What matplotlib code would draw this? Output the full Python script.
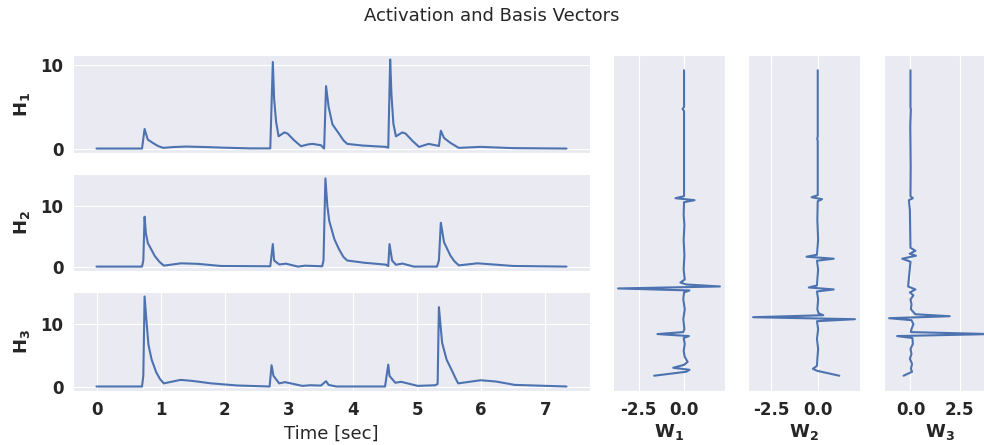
import numpy as np
import matplotlib
matplotlib.use('Agg')
import matplotlib.pyplot as plt
import matplotlib.ticker as ticker
import seaborn as sns

sns.set_style('darkgrid')
plt.rcParams['font.family'] = ['DejaVu Sans']

LINE_COLOR = '#4c72b0'

# activations (time in seconds, value)
h1_time = [0, 0.71, 0.75, 0.80, 0.88, 0.96, 1.04, 1.2, 1.4, 1.7, 2.0, 2.4, 2.71,
           2.75, 2.77, 2.80, 2.84, 2.93, 2.98, 3.08, 3.19, 3.3, 3.37, 3.5, 3.55,
           3.58, 3.62, 3.68, 3.78, 3.85, 3.91, 4.15, 4.51, 4.55, 4.58, 4.60, 4.63,
           4.67, 4.77, 4.82, 4.93, 5.03, 5.18, 5.31, 5.34, 5.37, 5.42, 5.52, 5.65,
           5.99, 6.5, 7.33]
h1_vals = [0, 0, 2.35, 1.07, 0.67, 0.3, 0.08, 0.18, 0.24, 0.18, 0.1, 0.02, 0.02,
           10.4, 6.0, 3.25, 1.47, 1.94, 1.8, 1.0, 0.28, 0.5, 0.56, 0.4, 0.0,
           7.5, 5.0, 2.9, 1.8, 1.0, 0.56, 0.36, 0.2, 0.1, 10.7, 6.5, 3.0,
           1.47, 1.94, 1.8, 0.9, 0.2, 0.56, 0.36, 0.3, 2.14, 1.27, 0.68, 0.08,
           0.2, 0.05, 0.0]

h2_time = [0, 0.71, 0.73, 0.75, 0.77, 0.80, 0.83, 0.91, 0.98, 1.05, 1.32, 1.58,
           1.94, 2.71, 2.75, 2.77, 2.85, 2.955, 3.14, 3.25, 3.52, 3.54, 3.57,
           3.60, 3.63, 3.71, 3.78, 3.85, 3.91, 4.17, 4.51, 4.55, 4.57, 4.61, 4.67,
           4.77, 4.95, 5.31, 5.34, 5.37, 5.42, 5.52, 5.58, 5.65, 5.94, 6.5, 7.33]
h2_vals = [0, 0, 1.0, 8.2, 5.5, 3.87, 3.3, 1.72, 0.8, 0.16, 0.54, 0.45,
           0.1, 0.05, 3.7, 1.0, 0.35, 0.48, 0.0, 0.15, 0.05, 1.0, 14.5,
           10.0, 7.5, 4.5, 2.9, 1.6, 1.0, 0.64, 0.32, 0.1, 3.7, 1.0, 0.3,
           0.5, 0.0, 0.0, 1.0, 7.2, 4.0, 1.8, 0.9, 0.2, 0.54, 0.1, 0.0]

h3_time = [0, 0.71, 0.73, 0.75, 0.78, 0.81, 0.86, 0.93, 0.99, 1.05, 1.31, 1.49,
           1.79, 2.2, 2.7, 2.73, 2.76, 2.85, 2.94, 3.21, 3.33, 3.5, 3.58, 3.62,
           3.74, 4.5, 4.55, 4.57, 4.66, 4.75, 5.01, 5.28, 5.32, 5.34, 5.39, 5.46,
           5.55, 5.60, 5.64, 5.99, 6.23, 6.52, 7.33]
h3_vals = [0, 0, 1.7, 14.4, 10.4, 6.7, 4.3, 2.3, 1.2, 0.5, 1.06, 0.9,
           0.5, 0.16, 0.0, 3.4, 1.7, 0.5, 0.7, 0.1, 0.2, 0.15, 0.85, 0.26,
           0.0, 0.0, 3.5, 1.7, 0.6, 0.75, 0.1, 0.2, 0.4, 12.7, 7.0, 4.3,
           2.4, 1.3, 0.5, 1.0, 0.8, 0.26, 0.0]

# basis vectors (bin index, value)
w1_bins = [308, 271, 269, 267, 181, 179, 177, 175, 162, 152, 137, 122, 107, 97,
           94, 92, 90, 88, 86, 84, 77, 67, 57, 47, 44, 42, 40, 38, 32, 25, 19,
           14, 11, 8, 6, 4, 0]
w1_vals = [0.0, 0.0, -0.08, 0.0, 0.0, -0.47, 0.58, 0.0, -0.02, 0.02, -0.02, 0.02,
           -0.02, 0.04, -0.2, 0.12, 1.98, -3.64, 0.3, 0.0, -0.04, 0.04, -0.04,
           0.02, -0.04, -1.47, 0.27, -0.02, 0.04, -0.02, 0.04, 0.2, 0.0, -0.6,
           0.3, 0.12, -1.65]

w2_bins = [308, 241, 239, 237, 182, 180, 178, 176, 157, 137, 122, 120, 118, 116,
           107, 97, 91, 89, 87, 85, 77, 67, 63, 61, 59, 57, 55, 47, 37, 27, 17,
           10, 7, 5, 0]
w2_vals = [0.0, 0.0, -0.03, 0.0, 0.0, -0.33, 0.23, 0.0, -0.02, 0.02, -0.04,
           -0.6, 0.86, -0.04, 0.02, -0.02, -0.04, -0.48, 0.86, -0.04, 0.02,
           -0.02, 0.04, 0.3, -3.48, 2.0, -0.04, 0.02, -0.04, 0.02, -0.02, -0.04,
           -0.26, -0.04, 1.16]

w3_bins = [308, 270, 269, 252, 211, 181, 179, 177, 167, 129, 126, 123, 121, 118,
           115, 90, 87, 84, 81, 77, 72, 67, 62, 60, 58, 56, 52, 47, 44, 42, 40,
           38, 32, 27, 22, 17, 12, 7, 4, 0]
w3_vals = [0.0, 0.0, 0.02, -0.01, 0.01, 0.0, 0.12, -0.08, -0.03, 0.0, 0.25,
           -0.04, 0.28, -0.42, 0.0, -0.12, 0.25, -0.03, 0.15, 0.0, 0.05, 0.02,
           0.25, 2.0, -1.09, 0.05, 0.15, 0.05, 0.02, 4.1, -0.68, 0.1, 0.12,
           0.0, 0.05, -0.03, 0.08, 0.02, 0.08, -0.35]

activations = [(h1_time, h1_vals), (h2_time, h2_vals), (h3_time, h3_vals)]
bases = [(w1_bins, w1_vals), (w2_bins, w2_vals), (w3_bins, w3_vals)]

fig = plt.figure(figsize=(9.84, 4.45), dpi=100)

# pixel layout of the reference (figure 984 x 445)
W, H = 984.0, 445.0
h_rows = [(55, 153), (174, 271), (292, 391)]
w_cols = [613, 748, 884]


def bold_ticks(ax):
    for lbl in ax.get_xticklabels() + ax.get_yticklabels():
        lbl.set_fontweight('bold')


for k, ((t, v), (top, bot)) in enumerate(zip(activations, h_rows)):
    ax = fig.add_axes([73 / W, (H - bot) / H, 517 / W, (bot - top) / H])
    ax.plot(t, v, color=LINE_COLOR, linewidth=1.5)
    ax.set_yticks([0, 10])
    ax.set_ylabel(r'$\mathbf{H_%d}$' % (k + 1), fontsize=13, labelpad=6)
    ax.tick_params(labelsize=12)
    if k < 2:
        ax.set_xticks([])
    else:
        ax.set_xticks(range(8))
        ax.set_xlabel('Time [sec]', fontsize=13)
    bold_ticks(ax)

for k, ((b, v), left) in enumerate(zip(bases, w_cols)):
    ax = fig.add_axes([left / W, (H - 391) / H, 112 / W, 336 / H])
    ax.plot(v, b, color=LINE_COLOR, linewidth=1.5)
    ax.set_yticks([])
    ax.xaxis.set_major_locator(ticker.MultipleLocator(2.5))
    ax.xaxis.set_major_formatter(ticker.FormatStrFormatter('%.1f'))
    ax.tick_params(labelsize=12)
    ax.set_xlabel(r'$\mathbf{W_%d}$' % (k + 1), fontsize=13, labelpad=2)
    fig.canvas.draw()
    bold_ticks(ax)

fig.suptitle('Activation and Basis Vectors', fontsize=13, y=0.985)

fig.savefig('out.png', dpi=100)
